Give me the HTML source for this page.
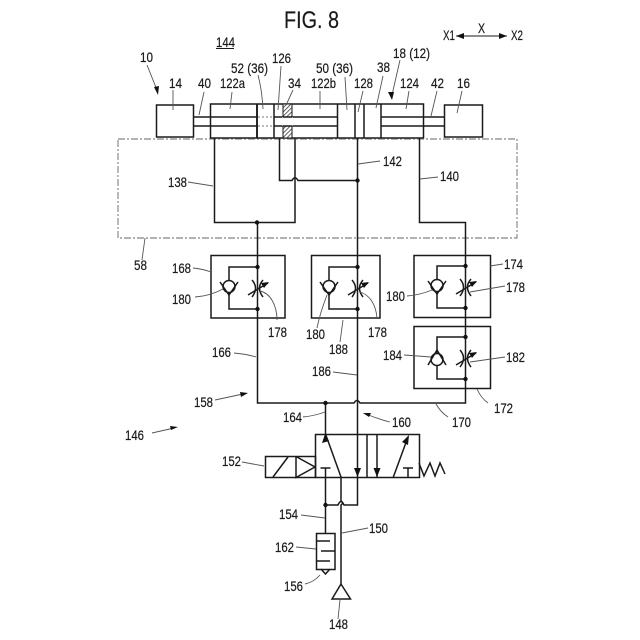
<!DOCTYPE html>
<html><head><meta charset="utf-8"><style>
html,body{margin:0;padding:0;background:#fff}
svg{display:block}
text{font-family:"Liberation Sans",sans-serif;font-size:14px;fill:#1a1a1a;stroke:#1a1a1a;stroke-width:.2}
.l{stroke:#1a1a1a;stroke-width:1.5;fill:none}
.t{stroke:#1a1a1a;stroke-width:1;fill:none}
.g{stroke:#555;stroke-width:.9;fill:none}
.d{fill:#111;stroke:none}
</style></head><body>
<svg width="640" height="640" viewBox="0 0 640 640" xmlns="http://www.w3.org/2000/svg">
<defs>
<pattern id="h" width="3" height="3" patternUnits="userSpaceOnUse" patternTransform="rotate(45)"><rect width="3" height="3" fill="#fff"/><line x1="0" y1="0" x2="0" y2="3" stroke="#222" stroke-width="1.4"/></pattern>
</defs>
<text x="284" y="28" textLength="55" lengthAdjust="spacingAndGlyphs" style="font-size:24px">FIG. 8</text>
<!-- actuators -->
<rect class="l" x="156.500" y="105" width="37" height="32"/>
<rect class="l" x="444.500" y="105" width="38" height="32"/>
<rect class="l" x="210.500" y="104" width="213" height="34"/>
<path class="l" d="M193 117H337M193 126H337M381 117H444M381 126H444"/>
<rect x="283" y="104" width="9" height="34" fill="url(#h)" stroke="#1a1a1a"/>
<rect x="282.500" y="117" width="10" height="9" fill="#fff"/>
<path class="l" d="M283 117H292M283 126H292"/>
<rect x="258" y="116" width="15.500" height="11" fill="#fff"/>
<path d="M258 117H273M258 126H273" stroke="#777" stroke-width=".9" stroke-dasharray="2 2"/>
<path class="l" style="stroke-width:1.9" d="M257 104V138"/>
<path class="l" d="M274 104V138M337.500 104V138M355 104V138M364 104V138M381 104V138"/>
<!-- dash-dot box -->
<path d="M118 139H517V238H118Z" stroke="#666" stroke-width=".9" stroke-dasharray="7 2 2 2" fill="none"/>
<!-- lines -->
<path class="l" d="M214.500 138V222.500H295V138"/>
<path class="l" d="M279.500 138V180.500H292Q295 175 298 180.500H357"/>
<path class="l" d="M257.500 222.500V403H354Q357 398 360 403H465.500V222.500H419.500V138"/>
<path class="l" d="M357.500 138V477"/>
<circle class="d" cx="357.500" cy="180.500" r="2.200"/>
<circle class="d" cx="257" cy="222.500" r="2.200"/>
<!-- boxes -->
<rect class="l" x="211" y="255.500" width="74" height="62.500"/>
<rect class="l" x="311.500" y="255.500" width="68.500" height="62.500"/>
<rect class="l" x="414" y="255.500" width="76.500" height="62"/>
<rect class="l" x="414" y="326.500" width="76.500" height="62"/>
<!-- 168 -->
<g>
<path class="l" d="M257 267H229V280M229 293V309H257"/>
<circle class="l" cx="229" cy="286.500" r="6"/>
<path class="l" d="M220 282L229 295L238 282"/>
<circle class="d" cx="257.500" cy="267" r="2.200"/><circle class="d" cx="257.500" cy="309" r="2.200"/>
<path class="l" d="M252 280Q259 288 252 297M263 280Q256 288 263 297"/>
<path class="l" d="M248 295L268 283"/><path class="d" d="M269 282L261 283L264 288Z"/>
</g>
<g transform="translate(100,0)">
<path class="l" d="M257 267H229V280M229 293V309H257"/>
<circle class="l" cx="229" cy="286.500" r="6"/>
<path class="l" d="M220 282L229 295L238 282"/>
<circle class="d" cx="257.500" cy="267" r="2.200"/><circle class="d" cx="257.500" cy="309" r="2.200"/>
<path class="l" d="M252 280Q259 288 252 297M263 280Q256 288 263 297"/>
<path class="l" d="M248 295L268 283"/><path class="d" d="M269 282L261 283L264 288Z"/>
</g>
<g transform="translate(208,-1)">
<path class="l" d="M257 267H229V280M229 293V309H257"/>
<circle class="l" cx="229" cy="286.500" r="6"/>
<path class="l" d="M220 282L229 295L238 282"/>
<circle class="d" cx="257.500" cy="267" r="2.200"/><circle class="d" cx="257.500" cy="309" r="2.200"/>
<path class="l" d="M252 280Q259 288 252 297M263 280Q256 288 263 297"/>
<path class="l" d="M248 295L268 283"/><path class="d" d="M269 282L261 283L264 288Z"/>
</g>
<!-- 182/184 -->
<path class="l" d="M465 337H437V353M437 366V379H465"/>
<circle class="l" cx="437" cy="359.500" r="6"/>
<path class="l" d="M428 365L437 350L446 365"/>
<circle class="d" cx="465.500" cy="337" r="2.200"/><circle class="d" cx="465.500" cy="379" r="2.200"/>
<path class="l" d="M460 350Q467 358 460 367M471 350Q464 358 471 367"/>
<path class="l" d="M456 365L476 353"/><path class="d" d="M477 352L469 353L472 358Z"/>
<!-- valve -->
<rect class="l" x="315.500" y="434.500" width="104" height="43"/>
<path class="l" d="M367 434V477"/>
<path class="l" d="M265.500 456.500H315.500V477.500H265.500Z"/>
<path class="l" d="M296 456.500V477.500L315 467L296 456.500M273 477L288 457"/>
<path class="l" d="M419 463L424 476L430 463L435 476L440 463L445 474"/>
<path class="l" d="M325.500 403V434M325.500 434L341 477V501Q344 503 341 505V584"/>
<path class="l" d="M357.500 477V505H344Q341 498 338 505H325.500"/>
<path class="l" d="M325.500 468V533M320.500 468H330.500"/>
<path class="d" d="M325 434L322 443L329 441Z"/>
<path class="d" d="M357.500 477L354 468H361Z"/>
<path class="l" d="M377 434V477"/><path class="d" d="M377 477L373.500 468H380.500Z"/>
<path class="l" d="M393 478L408 437"/><path class="d" d="M409 435L402 442L408 445Z"/>
<path class="l" d="M408 477V468M403 468H413"/>
<circle class="d" cx="325.500" cy="403" r="2.200"/>
<circle class="d" cx="325.500" cy="505" r="2.200"/>
<!-- silencer -->
<rect class="l" x="316.500" y="533.500" width="18.500" height="36"/>
<path class="l" d="M316 541H330M321 551H335M316 561H330M321 569L325.500 574L330 569"/>
<path class="l" d="M341 584L332 599H350.500Z"/>
<!-- X arrows -->
<path class="t" d="M456 36H507"/>
<path class="d" d="M456 36L464 33V39ZM507 36L499 33V39Z"/>
<!-- leaders -->
<g class="g">
<path d="M147 65L157 90"/>
<path d="M173 90V110"/>
<path d="M204 92L199 115"/>
<path d="M232 92L230 109"/>
<path d="M258 75Q262 90 263 109"/>
<path d="M281 66L278 110"/>
<path d="M293 90L287 103"/>
<path d="M320 91V109"/>
<path d="M345 77L347 110"/>
<path d="M363 91L358 112"/>
<path d="M383 76L376 108"/>
<path d="M400 60L392 95"/>
<path d="M409 91L406 109"/>
<path d="M437 91L431 116"/>
<path d="M462 91L457 113"/>
<path d="M188 182L213 186"/>
<path d="M358 164L380 161"/>
<path d="M420 179L438 177"/>
<path d="M145 238L142 260"/>
<path d="M193 268Q203 269 211 272"/>
<path d="M195 297Q210 296 223 289"/>
<path d="M260 291C270 293 277 305 277 320"/>
<path d="M234 353Q246 354 256 357"/>
<path d="M327 295C322 308 319 318 317 328"/>
<path d="M343 320L340 342"/>
<path d="M360 292C370 295 376 305 377 318"/>
<path d="M333 372L357 375"/>
<path d="M407 296Q420 295 432 290"/>
<path d="M490 266L503 264"/>
<path d="M470 292L505 286"/>
<path d="M404 355L431 357"/>
<path d="M470 362L505 357"/>
<path d="M477 389Q481 398 488 403"/>
<path d="M435 402Q440 412 448 417"/>
<path d="M303 417Q314 416 325 412"/>
<path d="M390 422Q378 419 366 414"/>
<path d="M242 462L264 466"/>
<path d="M301 515L325 518"/>
<path d="M368 528L342 533"/>
<path d="M296 547L316 549"/>
<path d="M305 584Q314 582 320 575"/>
<path d="M340 600L338 619"/>
<path d="M215 400L243 394M152 433L174 428"/>
</g>
<path class="d" d="M392 100L388 92L394 92Z"/>
<path class="d" d="M158 95L154 87L159 86Z"/>
<path class="d" d="M248 393L240 392L241 397ZM178 427L170 426L171 430Z"/>
<path class="d" d="M363 413L371 413L369 417Z"/>
<!-- labels -->
<g>
<text x="216" y="47" textLength="19" lengthAdjust="spacingAndGlyphs">144</text><path class="t" d="M216 48.500H234"/>
<text x="140" y="62" textLength="13" lengthAdjust="spacingAndGlyphs">10</text>
<text x="169" y="88" textLength="13" lengthAdjust="spacingAndGlyphs">14</text>
<text x="198" y="88" textLength="13" lengthAdjust="spacingAndGlyphs">40</text>
<text x="220" y="88" textLength="25" lengthAdjust="spacingAndGlyphs">122a</text>
<text x="231" y="73" textLength="37" lengthAdjust="spacingAndGlyphs">52 (36)</text>
<text x="272" y="63" textLength="19" lengthAdjust="spacingAndGlyphs">126</text>
<text x="288" y="88" textLength="13" lengthAdjust="spacingAndGlyphs">34</text>
<text x="311" y="88" textLength="25" lengthAdjust="spacingAndGlyphs">122b</text>
<text x="316" y="73" textLength="37" lengthAdjust="spacingAndGlyphs">50 (36)</text>
<text x="354" y="88" textLength="19" lengthAdjust="spacingAndGlyphs">128</text>
<text x="377" y="72" textLength="13" lengthAdjust="spacingAndGlyphs">38</text>
<text x="393" y="58" textLength="37" lengthAdjust="spacingAndGlyphs">18 (12)</text>
<text x="400" y="88" textLength="19" lengthAdjust="spacingAndGlyphs">124</text>
<text x="431" y="88" textLength="13" lengthAdjust="spacingAndGlyphs">42</text>
<text x="457" y="88" textLength="13" lengthAdjust="spacingAndGlyphs">16</text>
<text x="443" y="40" textLength="12" lengthAdjust="spacingAndGlyphs">X1</text>
<text x="478" y="33" textLength="7" lengthAdjust="spacingAndGlyphs">X</text>
<text x="511" y="40" textLength="12" lengthAdjust="spacingAndGlyphs">X2</text>
<text x="168" y="187" textLength="19" lengthAdjust="spacingAndGlyphs">138</text>
<text x="383" y="166" textLength="19" lengthAdjust="spacingAndGlyphs">142</text>
<text x="440" y="181" textLength="19" lengthAdjust="spacingAndGlyphs">140</text>
<text x="134" y="270" textLength="13" lengthAdjust="spacingAndGlyphs">58</text>
<text x="172" y="273" textLength="19" lengthAdjust="spacingAndGlyphs">168</text>
<text x="172" y="304" textLength="19" lengthAdjust="spacingAndGlyphs">180</text>
<text x="268" y="337" textLength="19" lengthAdjust="spacingAndGlyphs">178</text>
<text x="212" y="357" textLength="19" lengthAdjust="spacingAndGlyphs">166</text>
<text x="306" y="339" textLength="19" lengthAdjust="spacingAndGlyphs">180</text>
<text x="368" y="337" textLength="19" lengthAdjust="spacingAndGlyphs">178</text>
<text x="329" y="354" textLength="19" lengthAdjust="spacingAndGlyphs">188</text>
<text x="312" y="376" textLength="19" lengthAdjust="spacingAndGlyphs">186</text>
<text x="386" y="301" textLength="19" lengthAdjust="spacingAndGlyphs">180</text>
<text x="504" y="269" textLength="19" lengthAdjust="spacingAndGlyphs">174</text>
<text x="506" y="292" textLength="19" lengthAdjust="spacingAndGlyphs">178</text>
<text x="383" y="360" textLength="19" lengthAdjust="spacingAndGlyphs">184</text>
<text x="506" y="362" textLength="19" lengthAdjust="spacingAndGlyphs">182</text>
<text x="494" y="413" textLength="19" lengthAdjust="spacingAndGlyphs">172</text>
<text x="452" y="427" textLength="19" lengthAdjust="spacingAndGlyphs">170</text>
<text x="194" y="407" textLength="19" lengthAdjust="spacingAndGlyphs">158</text>
<text x="283" y="422" textLength="19" lengthAdjust="spacingAndGlyphs">164</text>
<text x="392" y="427" textLength="19" lengthAdjust="spacingAndGlyphs">160</text>
<text x="125" y="440" textLength="19" lengthAdjust="spacingAndGlyphs">146</text>
<text x="222" y="466" textLength="19" lengthAdjust="spacingAndGlyphs">152</text>
<text x="279" y="519" textLength="19" lengthAdjust="spacingAndGlyphs">154</text>
<text x="369" y="533" textLength="19" lengthAdjust="spacingAndGlyphs">150</text>
<text x="275" y="552" textLength="19" lengthAdjust="spacingAndGlyphs">162</text>
<text x="284" y="591" textLength="19" lengthAdjust="spacingAndGlyphs">156</text>
<text x="329" y="629" textLength="19" lengthAdjust="spacingAndGlyphs">148</text>
</g>
</svg>
</body></html>
